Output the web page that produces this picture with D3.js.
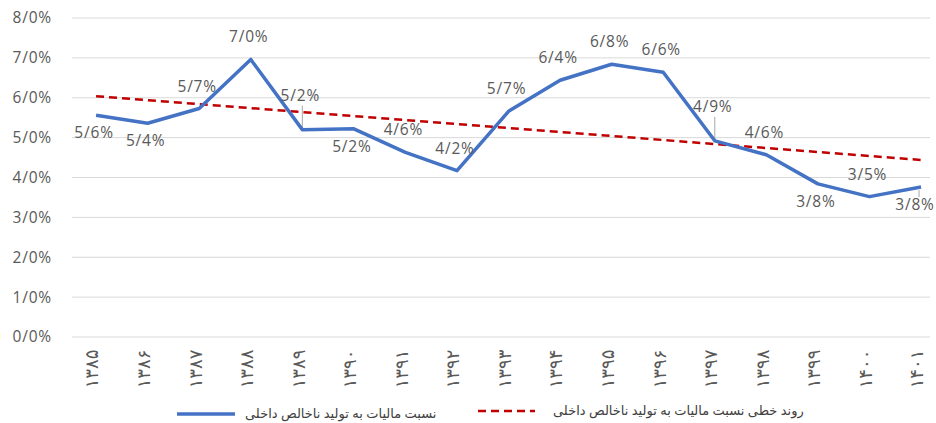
<!DOCTYPE html>
<html><head><meta charset="utf-8">
<script src="https://cdn.jsdelivr.net/npm/d3@7"></script>
<style>body{margin:0;background:#fff}svg{display:block}</style>
</head><body>
<svg id="c" width="936" height="423"></svg>
<script>
const categories = ["۱۳۸۵","۱۳۸۶","۱۳۸۷","۱۳۸۸","۱۳۸۹","۱۳۹۰","۱۳۹۱","۱۳۹۲","۱۳۹۳","۱۳۹۴","۱۳۹۵","۱۳۹۶","۱۳۹۷","۱۳۹۸","۱۳۹۹","۱۴۰۰","۱۴۰۱"];
const taxRatio = [5.56,5.36,5.73,6.96,5.2,5.22,4.63,4.17,5.66,6.44,6.84,6.64,4.92,4.57,3.84,3.52,3.76];
const trendEnds = [6.04, 4.44];
const yTicks = [0,1,2,3,4,5,6,7,8];
const seriesName = "نسبت مالیات به تولید ناخالص داخلی";
const trendName = "روند خطی نسبت مالیات به تولید ناخالص داخلی";
// label placement: "a" above, "b" below, "A" above with leader
const labelPlace = ["b","b","a","a","A","b","a","a","a","a","a","a","A","a","b","a","b"];

const svg = d3.select("#c");
const fontFam = "'Open Sans','DejaVu Sans',sans-serif";
const x = d3.scaleBand().domain(categories).range([70.3, 946.8]).padding(0);
const cx = d => x(d) + x.bandwidth()/2;
const y = d3.scaleLinear().domain([0,8]).range([337,18]);
const fmt = v => v.toFixed(1).replace(".", "/") + "%";
const lastIdx = categories.length - 1;

// grid
svg.append("g").selectAll("line").data(yTicks).join("line")
  .attr("x1", 72).attr("x2", 930)
  .attr("y1", d => y(d)).attr("y2", d => y(d))
  .attr("stroke", "#d9d9d9").attr("stroke-width", 1);

// y axis labels
const yAxis = d3.axisLeft(y).tickValues(yTicks).tickSize(0).tickPadding(0).tickFormat(d => fmt(d));
const gy = svg.append("g").attr("transform", "translate(52,0)").call(yAxis);
gy.select(".domain").remove();
gy.selectAll("text").attr("font-family", fontFam).attr("font-size", 15.5).attr("letter-spacing", 0.8).attr("fill", "#595959");

// x axis labels rotated
const xAxis = d3.axisBottom(x).tickSize(0).tickPadding(0);
const gx = svg.append("g").call(xAxis);
gx.select(".domain").remove();
gx.selectAll(".tick").attr("transform", d => `translate(${cx(d)-4},369)`);
gx.selectAll("text").attr("transform", "rotate(-90)").attr("y", 0).attr("dy", "0.35em")
  .attr("text-anchor", "middle").attr("font-family", fontFam).attr("font-size", 18).attr("fill", "#595959");

// trend line
const trendPts = [[categories[0], trendEnds[0]], [categories[lastIdx], trendEnds[1]]];
svg.append("path").datum(trendPts)
  .attr("d", d3.line().x(d => cx(d[0])).y(d => y(d[1])))
  .attr("fill", "none").attr("stroke", "#C00000").attr("stroke-width", 2.5).attr("stroke-dasharray", "8,5");

// leader lines
const data = categories.map((c,i) => ({c, i, v: taxRatio[i], p: labelPlace[i]}));
svg.append("g").selectAll("line").data(data.filter(d => d.p === "A")).join("line")
  .attr("x1", d => cx(d.c)).attr("x2", d => cx(d.c))
  .attr("y1", d => y(d.v) - 24).attr("y2", d => y(d.v))
  .attr("stroke", "#a6a6a6").attr("stroke-width", 1);
svg.append("line").attr("x1", cx(categories[lastIdx]) - 2).attr("x2", cx(categories[lastIdx]) - 2)
  .attr("y1", y(taxRatio[lastIdx]) + 3).attr("y2", y(taxRatio[lastIdx]) + 10)
  .attr("stroke", "#a6a6a6").attr("stroke-width", 1);

// main line
svg.append("path").datum(data)
  .attr("d", d3.line().x(d => cx(d.c)).y(d => y(d.v)))
  .attr("fill", "none").attr("stroke", "#4472C4").attr("stroke-width", 3.5).attr("stroke-linejoin", "round");

// data labels
svg.append("g").selectAll("text").data(data).join("text")
  .attr("x", d => cx(d.c) - (d.i === lastIdx ? 6 : 2))
  .attr("y", d => d.p === "b" ? y(d.v) + 23 : d.p === "A" ? y(d.v) - 29 : y(d.v) - 17)
  .attr("text-anchor", "middle").attr("font-family", fontFam).attr("font-size", 15.5).attr("letter-spacing", 0.8).attr("fill", "#595959")
  .text(d => fmt(d.v));

// legend
svg.append("line").attr("x1", 177).attr("x2", 235).attr("y1", 414).attr("y2", 414)
  .attr("stroke", "#4472C4").attr("stroke-width", 3.5);
svg.append("text").attr("x", 245).attr("y", 418).attr("font-family", fontFam).attr("font-size", 13)
  .attr("fill", "#404040").text(seriesName);
svg.append("line").attr("x1", 478).attr("x2", 535).attr("y1", 411).attr("y2", 411)
  .attr("stroke", "#C00000").attr("stroke-width", 2.5).attr("stroke-dasharray", "8,5");
svg.append("text").attr("x", 553).attr("y", 415).attr("font-family", fontFam).attr("font-size", 13)
  .attr("fill", "#404040").text(trendName);
</script>
</body></html>
